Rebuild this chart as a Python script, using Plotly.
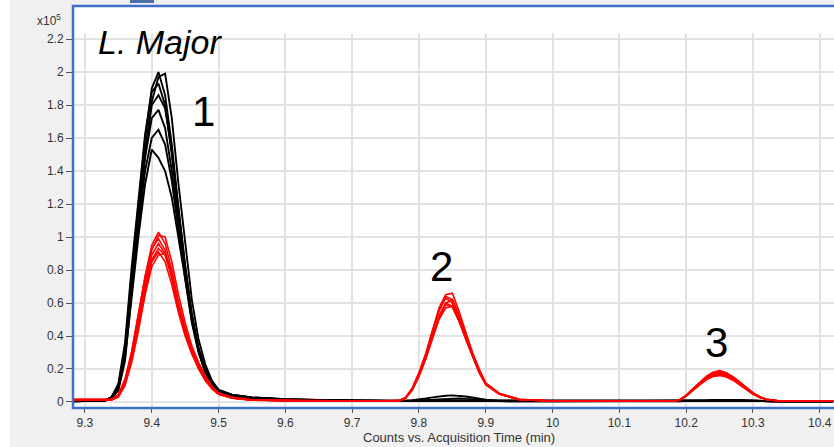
import plotly.graph_objects as go

# ---------------- data (counts x10^5 vs acquisition time, min) ----------------
time_a = [9.28, 9.30, 9.32, 9.33, 9.34, 9.35, 9.36, 9.37, 9.38, 9.39, 9.40, 9.41, 9.42,
          9.43, 9.44, 9.45, 9.46, 9.47, 9.48, 9.49, 9.50, 9.52, 9.55, 9.60, 9.65, 9.70, 9.75]
time_b = [9.77, 9.78, 9.79, 9.80, 9.81, 9.82, 9.83, 9.84, 9.85, 9.86, 9.87, 9.88, 9.89,
          9.90, 9.92, 9.95]
time_c = [10.00, 10.05, 10.10, 10.15]
time_d = [10.18, 10.19, 10.20, 10.21, 10.22, 10.23, 10.24, 10.25, 10.26, 10.27, 10.28,
          10.29, 10.30, 10.31, 10.32, 10.34]
time_e = [10.38, 10.42]

# black traces, peak 1 segment
black_p1 = [
    [0.005, 0.005, 0.006, 0.01, 0.03, 0.10, 0.33, 0.78, 1.20, 1.60, 1.90, 2.00, 1.86, 1.56, 1.17, 0.82, 0.52, 0.32, 0.19, 0.11, 0.065, 0.04, 0.025, 0.015, 0.01, 0.008, 0.006],
    [0.004, 0.005, 0.005, 0.008, 0.02, 0.07, 0.25, 0.66, 1.10, 1.50, 1.82, 1.97, 1.99, 1.72, 1.32, 0.95, 0.62, 0.38, 0.23, 0.13, 0.075, 0.045, 0.028, 0.017, 0.011, 0.008, 0.006],
    [0.005, 0.005, 0.006, 0.01, 0.03, 0.11, 0.36, 0.82, 1.24, 1.62, 1.88, 1.93, 1.80, 1.50, 1.12, 0.78, 0.50, 0.31, 0.18, 0.10, 0.06, 0.038, 0.024, 0.014, 0.01, 0.007, 0.005],
    [0.005, 0.005, 0.005, 0.009, 0.025, 0.09, 0.30, 0.74, 1.15, 1.52, 1.80, 1.86, 1.78, 1.52, 1.16, 0.83, 0.54, 0.33, 0.20, 0.115, 0.07, 0.042, 0.026, 0.016, 0.011, 0.008, 0.006],
    [0.004, 0.004, 0.005, 0.008, 0.025, 0.09, 0.31, 0.74, 1.13, 1.48, 1.72, 1.77, 1.66, 1.40, 1.06, 0.75, 0.48, 0.30, 0.18, 0.10, 0.06, 0.037, 0.023, 0.014, 0.01, 0.007, 0.005],
    [0.005, 0.005, 0.006, 0.01, 0.03, 0.10, 0.32, 0.72, 1.08, 1.40, 1.60, 1.65, 1.56, 1.34, 1.04, 0.76, 0.50, 0.32, 0.19, 0.11, 0.065, 0.04, 0.025, 0.015, 0.01, 0.008, 0.006],
    [0.004, 0.004, 0.005, 0.008, 0.02, 0.08, 0.27, 0.64, 1.00, 1.32, 1.53, 1.48, 1.40, 1.24, 1.00, 0.74, 0.50, 0.32, 0.20, 0.12, 0.07, 0.045, 0.028, 0.017, 0.011, 0.008, 0.006],
]
black_p2_flat = [0.005, 0.005, 0.006, 0.006, 0.007, 0.007, 0.008, 0.008, 0.008, 0.007, 0.007, 0.006, 0.006, 0.005, 0.005, 0.004]
black_p2_big = [0.006, 0.008, 0.011, 0.015, 0.021, 0.028, 0.034, 0.038, 0.040, 0.038, 0.033, 0.027, 0.020, 0.014, 0.008, 0.005]
black_p2_med = [0.005, 0.006, 0.008, 0.010, 0.013, 0.016, 0.019, 0.021, 0.022, 0.021, 0.019, 0.016, 0.013, 0.010, 0.007, 0.005]
black_gap = [0.004, 0.004, 0.004, 0.004]
black_p3 = [0.004, 0.004, 0.005, 0.006, 0.007, 0.008, 0.009, 0.01, 0.01, 0.01, 0.009, 0.008, 0.007, 0.006, 0.005, 0.004]
black_end = [0.004, 0.004]

# red traces
red_p1 = [
    [0.015, 0.015, 0.014, 0.013, 0.015, 0.04, 0.13, 0.30, 0.52, 0.76, 0.95, 1.03, 0.96, 0.80, 0.60, 0.44, 0.31, 0.22, 0.14, 0.085, 0.05, 0.025, 0.012, 0.008, 0.006, 0.005, 0.005],
    [0.012, 0.012, 0.012, 0.012, 0.013, 0.035, 0.11, 0.27, 0.48, 0.72, 0.92, 1.01, 1.00, 0.85, 0.65, 0.48, 0.34, 0.24, 0.16, 0.095, 0.055, 0.028, 0.013, 0.008, 0.006, 0.005, 0.005],
    [0.016, 0.016, 0.015, 0.014, 0.016, 0.045, 0.14, 0.31, 0.53, 0.76, 0.93, 0.99, 0.92, 0.76, 0.57, 0.42, 0.30, 0.21, 0.135, 0.08, 0.047, 0.024, 0.011, 0.007, 0.006, 0.005, 0.004],
    [0.014, 0.014, 0.013, 0.013, 0.014, 0.04, 0.12, 0.28, 0.49, 0.72, 0.89, 0.96, 0.90, 0.75, 0.57, 0.42, 0.30, 0.21, 0.14, 0.083, 0.05, 0.025, 0.012, 0.008, 0.006, 0.005, 0.005],
    [0.013, 0.013, 0.012, 0.012, 0.013, 0.035, 0.11, 0.26, 0.46, 0.68, 0.86, 0.93, 0.89, 0.76, 0.58, 0.43, 0.31, 0.22, 0.145, 0.09, 0.052, 0.026, 0.012, 0.008, 0.006, 0.005, 0.005],
    [0.015, 0.015, 0.014, 0.013, 0.015, 0.04, 0.12, 0.27, 0.47, 0.69, 0.85, 0.91, 0.85, 0.71, 0.54, 0.40, 0.29, 0.20, 0.13, 0.08, 0.046, 0.023, 0.011, 0.007, 0.005, 0.005, 0.004],
    [0.012, 0.012, 0.012, 0.011, 0.012, 0.03, 0.10, 0.24, 0.43, 0.65, 0.82, 0.89, 0.90, 0.78, 0.60, 0.45, 0.32, 0.23, 0.15, 0.092, 0.054, 0.027, 0.013, 0.008, 0.006, 0.005, 0.005],
]
red_p2 = [
    [0.008, 0.026, 0.082, 0.17, 0.29, 0.43, 0.57, 0.65, 0.66, 0.55, 0.42, 0.30, 0.20, 0.115, 0.052, 0.016],
    [0.007, 0.024, 0.078, 0.165, 0.28, 0.42, 0.56, 0.64, 0.62, 0.52, 0.40, 0.29, 0.19, 0.11, 0.05, 0.015],
    [0.008, 0.027, 0.085, 0.18, 0.29, 0.43, 0.55, 0.63, 0.60, 0.50, 0.38, 0.28, 0.18, 0.105, 0.048, 0.014],
    [0.007, 0.022, 0.072, 0.155, 0.26, 0.39, 0.52, 0.60, 0.62, 0.53, 0.41, 0.30, 0.20, 0.115, 0.053, 0.016],
    [0.008, 0.025, 0.078, 0.165, 0.27, 0.40, 0.52, 0.60, 0.58, 0.49, 0.38, 0.28, 0.18, 0.105, 0.048, 0.014],
    [0.007, 0.023, 0.074, 0.16, 0.26, 0.39, 0.51, 0.59, 0.575, 0.49, 0.38, 0.28, 0.185, 0.11, 0.05, 0.015],
    [0.008, 0.024, 0.076, 0.16, 0.26, 0.38, 0.50, 0.57, 0.58, 0.50, 0.39, 0.29, 0.19, 0.11, 0.05, 0.015],
]
red_gap = [0.006, 0.005, 0.005, 0.005]
red_p3 = [
    [0.006, 0.012, 0.04, 0.08, 0.12, 0.155, 0.18, 0.19, 0.178, 0.152, 0.118, 0.082, 0.052, 0.03, 0.016, 0.006],
    [0.005, 0.01, 0.035, 0.074, 0.114, 0.15, 0.176, 0.185, 0.176, 0.154, 0.122, 0.086, 0.055, 0.032, 0.017, 0.006],
    [0.006, 0.013, 0.042, 0.08, 0.118, 0.15, 0.172, 0.18, 0.168, 0.144, 0.112, 0.078, 0.05, 0.029, 0.015, 0.006],
    [0.005, 0.011, 0.036, 0.072, 0.108, 0.14, 0.164, 0.175, 0.17, 0.15, 0.12, 0.086, 0.056, 0.033, 0.017, 0.006],
    [0.006, 0.012, 0.038, 0.074, 0.11, 0.142, 0.164, 0.17, 0.16, 0.138, 0.108, 0.076, 0.049, 0.028, 0.015, 0.006],
    [0.005, 0.011, 0.035, 0.07, 0.105, 0.136, 0.158, 0.165, 0.158, 0.138, 0.11, 0.079, 0.051, 0.03, 0.016, 0.006],
    [0.006, 0.012, 0.037, 0.072, 0.106, 0.135, 0.155, 0.16, 0.152, 0.132, 0.104, 0.074, 0.047, 0.027, 0.014, 0.005],
]
red_end = [0.005, 0.005]

x_ticks = [9.3, 9.4, 9.5, 9.6, 9.7, 9.8, 9.9, 10.0, 10.1, 10.2, 10.3, 10.4]
x_ticktext = ["9.3", "9.4", "9.5", "9.6", "9.7", "9.8", "9.9", "10", "10.1", "10.2", "10.3", "10.4"]
y_ticks = [0, 0.2, 0.4, 0.6, 0.8, 1.0, 1.2, 1.4, 1.6, 1.8, 2.0, 2.2]
y_ticktext = ["0", "0.2", "0.4", "0.6", "0.8", "1", "1.2", "1.4", "1.6", "1.8", "2", "2.2"]

peak_labels = ["1", "2", "3"]
peak_label_x = [9.477, 9.833, 10.246]
peak_label_y = [1.76, 0.82, 0.36]

# ---------------- figure ----------------
time_all = time_a + time_b + time_c + time_d + time_e
black_p2_choice = [black_p2_flat, black_p2_flat, black_p2_med, black_p2_flat,
                   black_p2_flat, black_p2_flat, black_p2_big]

fig = go.Figure()
for i, seg in enumerate(black_p1):
    ys = seg + black_p2_choice[i] + black_gap + black_p3 + black_end
    fig.add_trace(go.Scatter(x=time_all, y=ys, mode="lines",
                             line=dict(color="#000000", width=1.9),
                             showlegend=False, hoverinfo="skip"))
for i, seg in enumerate(red_p1):
    ys = seg + red_p2[i] + red_gap + red_p3[i] + red_end
    fig.add_trace(go.Scatter(x=time_all, y=ys, mode="lines",
                             line=dict(color="#ff0000", width=1.6),
                             showlegend=False, hoverinfo="skip"))

for txt, lx, ly in zip(peak_labels, peak_label_x, peak_label_y):
    fig.add_annotation(x=lx, y=ly, xref="x", yref="y", text=txt, showarrow=False,
                       font=dict(family="Liberation Sans", size=42, color="#000"),
                       xanchor="center", yanchor="middle")

# paper helpers: plot spans px 74..834 horizontally, 6..408 vertically
W_PLOT = 760.0
H_PLOT = 402.0
def px(x):
    return (x - 74) / W_PLOT
def py(y):
    return (408 - y) / H_PLOT

fig.add_annotation(x=px(96), y=py(42), xref="paper", yref="paper", text="<i>L. Major</i>",
                   showarrow=False, xanchor="left", yanchor="middle",
                   font=dict(family="Liberation Sans", size=34, color="#000"))
fig.add_annotation(x=px(63), y=py(20), xref="paper", yref="paper", text="x10<sup>5</sup>",
                   showarrow=False, xanchor="right", yanchor="middle",
                   font=dict(family="Liberation Sans", size=12, color="#333"))
fig.add_annotation(x=px(459), y=py(437), xref="paper", yref="paper",
                   text="Counts vs. Acquisition Time (min)", showarrow=False,
                   xanchor="center", yanchor="middle",
                   font=dict(family="Liberation Sans", size=13, color="#333"))

# hide grid above the data region
fig.add_shape(type="rect", xref="x", yref="y", x0=9.2, x1=10.5, y0=2.235, y1=2.6,
              fillcolor="white", line=dict(width=0), layer="between")
# white strip at the far left
fig.add_shape(type="rect", xref="paper", yref="paper", x0=px(-2), x1=px(10),
              y0=py(450), y1=py(-2), fillcolor="white", line=dict(width=0), layer="above")
# blue frame
fig.add_shape(type="rect", xref="paper", yref="paper", x0=px(73), x1=px(840),
              y0=py(408), y1=py(6), line=dict(color="#3f70c8", width=2.5),
              fillcolor="rgba(0,0,0,0)", layer="above")
# small tab on top
fig.add_shape(type="rect", xref="paper", yref="paper", x0=px(130), x1=px(154),
              y0=py(3), y1=py(-2), fillcolor="#4a6ea8", line=dict(width=0), layer="above")

fig.update_layout(
    width=834, height=447,
    margin=dict(l=74, r=0, t=6, b=39),
    paper_bgcolor="#f0f0f0", plot_bgcolor="#ffffff",
    font=dict(family="Liberation Sans", size=12, color="#333"),
    showlegend=False,
)
fig.update_xaxes(range=[9.2836, 10.4213], tickvals=x_ticks, ticktext=x_ticktext,
                 showgrid=True, gridcolor="#e2e2e2", gridwidth=1.5, zeroline=False,
                 ticks="outside", ticklen=4, tickcolor="#555", showline=False,
                 tickfont=dict(size=12, color="#333"))
fig.update_yaxes(range=[-0.0364, 2.4], tickvals=y_ticks, ticktext=y_ticktext,
                 showgrid=True, gridcolor="#e2e2e2", gridwidth=1.5, zeroline=False,
                 ticks="outside", ticklen=7, tickcolor="#555", showline=False,
                 tickfont=dict(size=12, color="#333"))

fig.write_html("out.html")
